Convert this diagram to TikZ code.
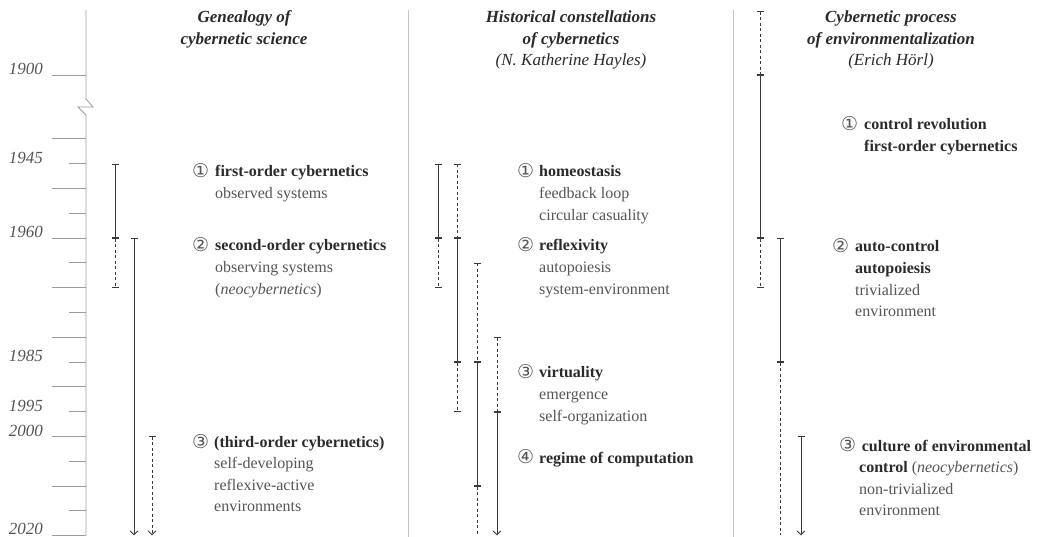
\documentclass[tikz,border=0pt]{standalone}
\usepackage{fontspec}
\setmainfont{Liberation Serif}
\newfontfamily\circfont{DejaVu Sans}
\usetikzlibrary{arrows.meta}

\definecolor{barcol}{HTML}{3A3A3A}
\definecolor{txtcol}{HTML}{555555}
\definecolor{boldcol}{HTML}{2A2A2A}
\definecolor{axiscol}{HTML}{9C9C9C}
\definecolor{sepcol}{HTML}{C4C4C4}

\newcommand\yy[1]{{238+(#1-1960)*4.958}}
\newcommand\hd[1]{\textcolor{boldcol}{\textbf{#1}}}
\newcommand\lns[1]{\begin{tabular}[t]{@{}l@{}}#1\end{tabular}}
\newcommand\clns[1]{\begin{tabular}[t]{@{}c@{}}#1\end{tabular}}

\begin{document}
\begin{tikzpicture}[x=1pt,y=-1pt,
  axis/.style={draw=axiscol,line width=0.8pt},
  sep/.style={draw=sepcol,line width=0.8pt},
  bar/.style={draw=barcol,line width=0.9pt,{Bar[width=7pt]}-{Bar[width=7pt]}},
  dbar/.style={bar,dash pattern=on 3pt off 2.5pt},
  arr/.style={draw=barcol,line width=0.9pt,{Bar[width=7pt]}-{Straight Barb[length=4pt,width=8pt]}},
  darr/.style={arr,dash pattern=on 3pt off 2.5pt},
  dopen/.style={draw=barcol,line width=0.9pt,{Bar[width=7pt]}-,dash pattern=on 3pt off 2.5pt},
  yearlbl/.style={anchor=base east,inner sep=0pt,text=txtcol,font=\fontsize{17}{17}\selectfont\itshape},
  head/.style={anchor=base,inner sep=0pt,text=boldcol,font=\fontsize{17}{21.5}\selectfont\bfseries\itshape},
  item/.style={anchor=base west,inner sep=0pt,text=txtcol,font=\fontsize{16}{21.6}\selectfont},
  num/.style={anchor=base west,inner sep=0pt,text=txtcol,font=\circfont\fontsize{19}{19}\selectfont}]

\useasboundingbox (0,0) rectangle (1053,537);

\draw[axis] (86,10) -- (86,99) -- (93,107) -- (78,107) -- (86,115) -- (86,\yy{2020});
\draw[axis] (52,75) -- (86,75);
\foreach \yr in {1940,1950,...,2020}
  \draw[axis] (52,\yy{\yr}) -- (86,\yy{\yr});
\foreach \yr in {1945,1955,...,2015}
  \draw[axis] (69,\yy{\yr}) -- (86,\yy{\yr});

\node[yearlbl] (y1900) at (43,75) {1900};
\foreach \yr in {1945,1960,1985,1995,2000}
  \node[yearlbl] (y\yr) at (43,\yy{\yr}) {\yr};
\node[yearlbl] (y2020) at (43,534) {2020};

\draw[sep] (408,10) -- (408,537);
\draw[sep] (733,10) -- (733,537);

\node[head] (h1) at (244,23) {\clns{Genealogy of\\cybernetic science}};
\node[head] (h2) at (571,23) {\clns{Historical constellations\\of cybernetics\\{\mdseries(N. Katherine Hayles)}}};
\node[head] (h3) at (891,23) {\clns{Cybernetic process\\of environmentalization\\{\mdseries(Erich Hörl)}}};

\draw[bar] (115,\yy{1945}) -- (115,\yy{1960});
\draw[dbar] (115,\yy{1960}) -- (115,\yy{1970});
\draw[arr] (134,\yy{1960}) -- (134,\yy{2020});
\draw[darr] (152,\yy{2000}) -- (152,\yy{2020});

\draw[bar] (438,\yy{1945}) -- (438,\yy{1960});
\draw[dbar] (438,\yy{1960}) -- (438,\yy{1970});
\draw[dbar] (457,\yy{1945}) -- (457,\yy{1960});
\draw[bar] (457,\yy{1960}) -- (457,\yy{1985});
\draw[dbar] (457,\yy{1985}) -- (457,\yy{1995});
\draw[dbar] (477,\yy{1965}) -- (477,\yy{1985});
\draw[bar] (477,\yy{1985}) -- (477,\yy{2010});
\draw[dopen] (477,\yy{2010}) -- (477,\yy{2020});
\draw[dbar] (497,\yy{1980}) -- (497,\yy{1995});
\draw[arr] (497,\yy{1995}) -- (497,\yy{2020});

\draw[dbar] (760,11) -- (760,75);
\draw[bar] (760,75) -- (760,\yy{1960});
\draw[dbar] (760,\yy{1960}) -- (760,\yy{1970});
\draw[bar] (780,\yy{1960}) -- (780,\yy{1985});
\draw[dopen] (780,\yy{1985}) -- (780,\yy{2020});
\draw[arr] (801,\yy{2000}) -- (801,\yy{2020});

\node[num] (n11) at (192,178) {①};
\node[item] (t11) at (215,177) {\lns{\hd{first-order cybernetics}\\observed systems}};
\node[num] (n12) at (192,252) {②};
\node[item] (t12) at (215,251) {\lns{\hd{second-order cybernetics}\\observing systems\\(\textit{neocybernetics})}};
\node[num] (n13) at (192,448) {③};
\node[item] (t13) at (214,447) {\lns{\hd{(third-order cybernetics)}\\self-developing\\reflexive-active\\environments}};

\node[num] (n21) at (517,178) {①};
\node[item] (t21) at (539,177) {\lns{\hd{homeostasis}\\feedback loop\\circular casuality}};
\node[num] (n22) at (517,252) {②};
\node[item] (t22) at (539,251) {\lns{\hd{reflexivity}\\autopoiesis\\system-environment}};
\node[num] (n23) at (517,379) {③};
\node[item] (t23) at (539,378) {\lns{\hd{virtuality}\\emergence\\self-organization}};
\node[num] (n24) at (517,464) {④};
\node[item] (t24) at (539,463) {\lns{\hd{regime of computation}}};

\node[num] (n31) at (841,131) {①};
\node[item] (t31) at (864,130) {\lns{\hd{control revolution}\\\hd{first-order cybernetics}}};
\node[num] (n32) at (832,253) {②};
\node[item] (t32) at (855,252) {\lns{\hd{auto-control}\\\hd{autopoiesis}\\trivialized\\environment}};
\node[num] (n33) at (839,452) {③};
\node[item] (t33) at (859,451) {\lns{\hd{\,culture of environmental}\\\hd{control} (\textit{neocybernetics})\\non-trivialized\\environment}};

\end{tikzpicture}
\end{document}
